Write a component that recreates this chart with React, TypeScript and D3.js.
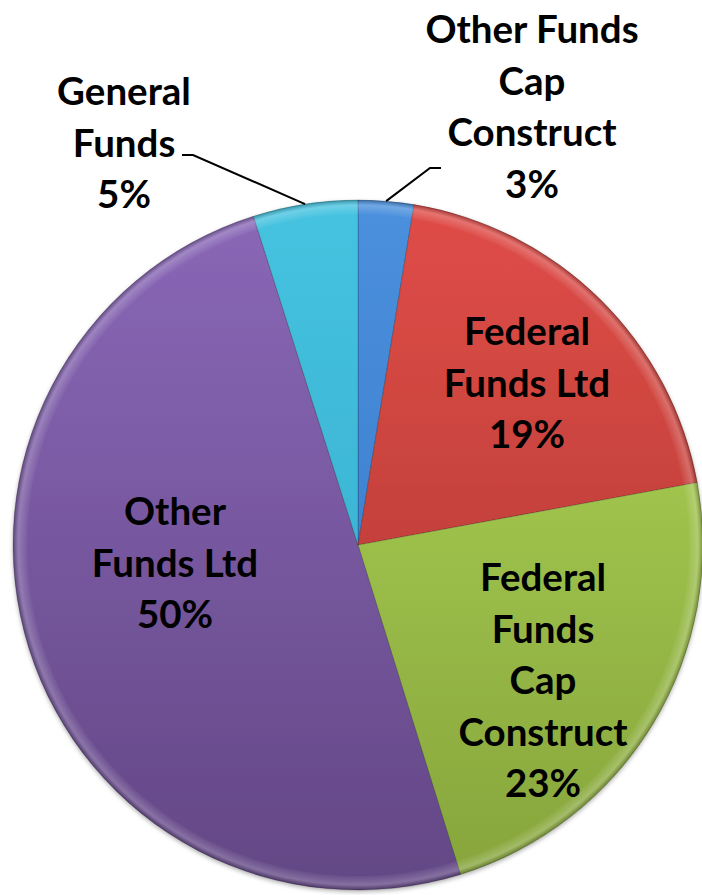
import React from "react";
import * as d3 from "d3";

const categories = [
  "Other Funds Cap Construct",
  "Federal Funds Ltd",
  "Federal Funds Cap Construct",
  "Other Funds Ltd",
  "General Funds",
];
const values = [2.6, 19.5, 23.1, 49.9, 4.9];
const labelLines = [
  ["Other Funds", "Cap", "Construct", "3%"],
  ["Federal", "Funds Ltd", "19%"],
  ["Federal", "Funds", "Cap", "Construct", "23%"],
  ["Other", "Funds Ltd", "50%"],
  ["General", "Funds", "5%"],
];
const colorsTop = ["#4a90dd", "#e04d48", "#b1d957", "#8a68b8", "#45c3e0"];
const colorsBottom = ["#3574c4", "#a8352f", "#86a43c", "#634785", "#34a8c8"];

// label centre positions (first line) relative to pie centre
const labelPos = [
  [174, -517],
  [169, -215],
  [185, 31],
  [-183, -35],
  [-234, -455],
];

const W = 702;
const H = 895;
const cx = 358;
const cy = 545;
const R = 345;
const lineH = 51.5;

export default function App() {
  const pie = d3
    .pie<number>()
    .sort(null)
    .value((d) => d)
    .startAngle(0)
    .endAngle(2 * Math.PI);
  const arcs = pie(values);
  const arc = d3.arc<d3.PieArcDatum<number>>().innerRadius(0).outerRadius(R);
  const rimArc = d3.arc<d3.PieArcDatum<number>>().innerRadius(R - 14).outerRadius(R);

  const edgePoint = (a: number, r: number) => [Math.sin(a) * r, -Math.cos(a) * r];

  const leaders: { idx: number; pts: number[][] }[] = [];
  {
    const a0 = arcs[0];
    const m = (a0.startAngle + a0.endAngle) / 2;
    const p = edgePoint(m, R);
    leaders.push({ idx: 0, pts: [p, [72, -377], [83, -377]] });
    const a4 = arcs[4];
    const m4 = (a4.startAngle + a4.endAngle) / 2;
    const p4 = edgePoint(m4, R);
    leaders.push({ idx: 4, pts: [p4, [-165, -390], [-176, -390]] });
  }

  return (
    <svg
      width={W}
      height={H}
      style={{ position: "absolute", left: 0, top: 0, background: "#fff" }}
      fontFamily="Lato, 'Open Sans', sans-serif"
    >
      <defs>
        {arcs.map((a, i) => (
          <linearGradient
            key={i}
            id={`g${i}`}
            gradientUnits="userSpaceOnUse"
            x1={0}
            y1={-R}
            x2={0}
            y2={R}
          >
            <stop offset="0" stopColor={colorsTop[i]} />
            <stop offset="1" stopColor={colorsBottom[i]} />
          </linearGradient>
        ))}
        <radialGradient id="rim" gradientUnits="userSpaceOnUse" cx={0} cy={0} r={R}>
          <stop offset="0.955" stopColor="#fff" stopOpacity={0} />
          <stop offset="0.985" stopColor="#fff" stopOpacity={0.22} />
          <stop offset="1" stopColor="#000" stopOpacity={0.25} />
        </radialGradient>
        <filter id="shadow" x="-10%" y="-10%" width="120%" height="120%">
          <feDropShadow dx="0" dy="2" stdDeviation="2" floodColor="#000" floodOpacity="0.3" />
        </filter>
      </defs>
      <g transform={`translate(${cx},${cy})`}>
        <g filter="url(#shadow)">
          {arcs.map((a, i) => (
            <path key={i} d={arc(a) || ""} fill={`url(#g${i})`} stroke="rgba(0,0,0,0.25)" strokeWidth={0.8} />
          ))}
        </g>
        {arcs.map((a, i) => (
          <path key={`r${i}`} d={rimArc(a) || ""} fill="url(#rim)" />
        ))}
        {leaders.map((l) => (
          <polyline
            key={l.idx}
            points={l.pts.map((p) => p.join(",")).join(" ")}
            fill="none"
            stroke="#000"
            strokeWidth={2}
          />
        ))}
        {labelLines.map((lines, i) => (
          <text
            key={categories[i]}
            x={labelPos[i][0]}
            y={labelPos[i][1]}
            textAnchor="middle"
            fontSize={38.5}
            fontWeight="bold"
            fill="#000"
          >
            {lines.map((t, j) => (
              <tspan key={j} x={labelPos[i][0]} y={labelPos[i][1] + j * lineH} dominantBaseline="central">
                {t}
              </tspan>
            ))}
          </text>
        ))}
      </g>
    </svg>
  );
}
